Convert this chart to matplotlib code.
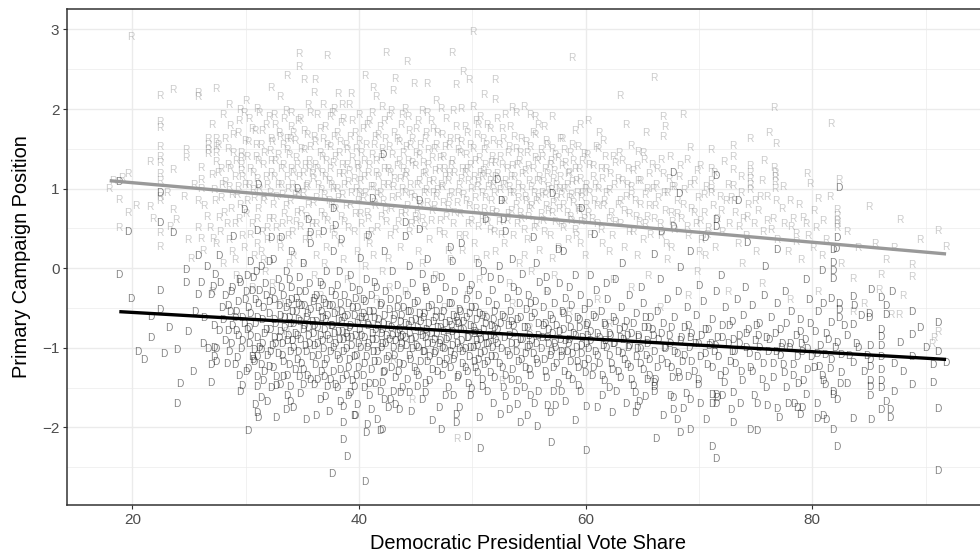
import matplotlib
matplotlib.use("Agg")
import matplotlib.pyplot as plt
from matplotlib.ticker import FixedLocator

# Republican candidates: (Democratic presidential vote share, primary campaign position)
rep_points = [
    (17.95,1.00),(18.3,1.10),(18.8,0.86),(18.8,0.51),(19.1,1.13),(19.6,1.19),(19.6,0.69),(19.9,2.91),(20.3,0.78),
    (21.5,0.77),(21.5,1.34),(21.8,0.62),(22.4,2.16),(22.4,1.84),(22.4,1.76),(22.4,1.52),(22.4,1.40),(22.4,1.32),
    (22.4,1.19),(22.4,1.09),(22.4,0.90),(22.4,0.84),(22.4,0.44),(22.4,0.27),(23.6,2.24),(23.6,1.23),(23.6,0.73),
    (23.8,0.61),(23.0,0.95),(23.3,0.52),
    (24.7,1.49),(24.7,1.38),(24.5,0.90),(24.9,0.35),(25.4,1.05),(25.8,2.20),(25.8,2.15),(25.8,0.85),(25.8,0.50),
    (26.0,1.00),(26.0,1.26),(26.0,1.11),(26.0,0.37),(26.3,0.78),(26.6,0.64),(26.7,1.62),(26.7,1.55),(26.7,1.49),
    (26.7,1.43),(26.8,0.50),(27.0,1.80),(27.0,1.17),(27.2,0.98),(27.4,2.25),(27.4,1.62),(27.4,1.52),(27.4,1.45),
    (27.4,1.33),(27.4,0.30),(27.5,1.20),(27.6,0.63),(27.8,0.88),(26.2,0.22),(25.2,0.12),(27.1,0.37),(27.9,1.05),
    (28.2,1.62),(28.4,1.30),(28.6,1.79),(28.5,1.02),(28.7,0.75),(28.3,0.55),(28.9,1.45),(28.8,0.20),(29.0,1.15),
    (29.2,0.92),(29.3,1.70),(29.5,1.99),(29.6,1.45),(29.6,1.38),(29.6,1.30),(29.6,1.22),(29.4,0.62),(29.7,0.40),
    (29.9,1.05),(30.0,2.10),(30.1,0.85),(30.2,1.58),(30.3,1.88),(30.4,1.25),(30.5,0.55),(30.6,0.98),(30.8,1.72),
    (30.9,1.40),(31.0,0.30),(31.0,1.12),(31.1,0.75),(31.2,1.95),(31.3,1.55),(31.4,0.45),(31.5,1.30),(31.6,0.90),
    (31.7,-0.05),(31.8,1.80),(31.9,1.05),(32.0,0.62),(32.2,2.27),(32.1,1.47),(32.2,1.20),(32.2,1.62),(28.0,0.05),
    (29.1,-0.10),(30.7,0.15),(31.9,0.35),
    (32.4,0.80),(32.5,1.92),(32.6,1.35),(32.7,0.50),(32.8,1.05),(32.9,1.70),(33.0,0.25),(33.1,1.25),(33.2,0.92),
    (33.3,1.55),(33.4,0.68),(33.5,1.98),(33.6,2.41),(33.6,1.15),(33.7,0.40),(33.8,1.42),(33.9,0.85),(34.0,1.78),
    (34.1,1.05),(34.2,0.15),(34.3,1.60),(34.4,0.58),(34.5,1.30),(34.6,0.95),(34.7,2.69),(34.7,2.53),(34.8,1.88),
    (34.9,0.72),(35.0,1.20),(35.1,2.37),(35.1,1.48),(35.2,0.35),(35.3,1.02),(35.4,1.68),(35.5,0.80),(35.6,1.35),
    (35.7,1.95),(35.8,0.55),(35.9,1.12),(36.0,-0.10),(36.1,2.37),(36.1,1.58),(36.2,0.88),(35.0,0.05),(32.3,-0.20),
    (33.6,1.62),(34.2,1.20),(35.6,1.25),
    (36.3,1.25),(36.4,0.42),(36.5,1.75),(36.6,0.98),(36.7,1.40),(36.8,2.05),(36.9,0.65),(37.0,1.15),(37.1,0.25),
    (37.2,2.67),(37.2,1.55),(37.3,0.85),(37.4,1.90),(37.5,1.05),(37.6,0.48),(37.7,1.32),(37.8,1.65),(37.9,0.75),
    (38.0,1.00),(38.1,2.19),(38.2,1.45),(38.3,0.30),(38.4,1.82),(38.5,0.92),(38.6,1.18),(38.7,0.58),(38.8,1.55),
    (38.9,-0.15),(39.0,1.08),(39.1,2.05),(39.3,2.19),(39.2,0.80),(39.4,1.38),(39.5,0.45),(39.6,1.70),(39.7,1.00),
    (39.8,0.20),(39.9,1.25),(40.0,1.92),(40.1,0.68),(37.4,1.25),(38.9,1.30),(36.9,0.05),(40.0,0.95),
    (40.2,1.45),(40.3,0.88),(40.5,2.41),(40.4,1.15),(40.6,0.38),(40.7,1.80),(40.8,0.62),(40.9,1.30),(41.0,1.02),
    (41.1,1.95),(41.2,2.26),(41.2,0.15),(41.3,1.55),(41.4,0.78),(41.5,1.20),(41.6,0.50),(41.7,1.68),(41.8,0.95),
    (41.9,1.38),(42.0,-0.05),(42.1,1.05),(42.2,1.85),(42.4,2.71),(42.3,0.72),(42.5,1.25),(42.6,1.52),(42.7,0.40),
    (42.8,1.98),(42.9,0.88),(43.0,2.23),(43.2,2.38),(43.1,1.12),(43.3,1.62),(43.4,0.58),(43.5,1.35),(43.6,0.25),
    (43.7,1.80),(43.8,1.00),(43.9,1.45),(44.0,0.70),(40.9,0.30),(42.6,-0.25),(44.0,1.15),
    (44.2,2.59),(44.1,1.20),(44.3,1.90),(44.4,0.45),(44.5,1.55),(44.6,0.92),(44.8,2.32),(44.7,1.32),(44.9,0.65),
    (45.0,1.75),(45.1,1.05),(45.2,0.20),(45.3,1.42),(45.4,0.80),(45.5,1.98),(45.6,1.18),(45.7,0.52),(45.8,1.62),
    (45.9,0.98),(46.0,2.32),(46.1,1.30),(46.2,0.35),(46.3,1.85),(46.4,0.72),(46.5,1.10),(46.6,1.50),(46.7,-0.10),
    (46.8,0.90),(46.9,1.70),(47.0,1.25),(47.1,0.60),(47.2,2.00),(47.3,1.02),(47.4,1.40),(47.5,0.42),(47.6,1.15),
    (47.7,1.88),(47.8,0.78),(47.9,1.55),(48.0,0.10),(45.0,0.60),(46.5,0.95),(47.9,1.20),
    (48.2,2.70),(48.3,1.98),(48.5,2.30),(48.1,1.30),(48.4,0.70),(48.6,1.62),(48.7,0.95),(48.8,0.40),(48.9,1.45),
    (49.0,1.12),(49.2,2.47),(49.1,0.22),(49.3,1.78),(49.4,0.85),(49.5,1.25),(49.7,2.37),(49.6,0.55),(49.8,1.55),
    (49.9,1.00),(50.0,2.97),(50.0,2.03),(50.1,0.30),(50.2,1.35),(50.3,0.75),(50.4,1.68),(50.5,1.08),(50.6,-0.15),
    (50.7,1.90),(50.8,0.62),(50.9,1.22),(51.0,1.48),(51.1,0.88),(51.2,0.15),(51.3,1.80),(51.4,1.02),(51.5,0.48),
    (51.6,1.32),(51.7,0.72),(51.8,1.60),(51.9,0.95),(52.0,2.37),(52.0,2.11),(52.0,1.15),(49.3,1.20),(50.8,1.15),
    (51.5,1.10),
    (52.2,1.88),(52.3,0.58),(52.4,1.40),(52.5,0.85),(52.6,1.75),(52.7,1.05),(52.8,0.30),(52.9,1.93),(53.0,1.25),
    (53.1,0.68),(53.2,1.52),(53.3,0.95),(53.5,2.01),(53.4,1.15),(53.6,0.40),(53.7,1.65),(53.8,0.80),(53.9,1.30),
    (54.0,1.05),(54.1,0.05),(54.2,1.45),(54.3,0.62),(54.5,2.03),(54.4,1.18),(54.6,0.90),(54.7,1.58),(54.8,0.35),
    (54.9,1.28),(55.1,1.93),(55.0,0.75),(55.2,1.02),(55.3,1.70),(55.4,0.50),(55.5,1.38),(55.6,0.85),(55.8,1.80),
    (55.7,1.10),(55.9,0.22),(56.0,1.48),(56.3,1.78),(53.2,-0.20),(55.2,-0.05),
    (56.1,0.95),(56.2,0.60),(56.4,1.25),(56.5,0.78),(56.6,1.55),(56.7,1.02),(56.8,0.40),(56.9,1.35),(57.0,0.70),
    (57.1,1.12),(57.3,1.42),(57.4,0.88),(57.5,0.25),(57.7,1.63),(57.6,1.00),(57.8,0.55),(57.9,1.28),(58.0,0.80),
    (58.1,1.48),(58.3,1.05),(58.4,0.35),(58.5,1.20),(58.6,0.65),(58.8,2.64),(58.8,1.55),(58.7,0.92),(58.9,1.35),
    (59.0,0.48),(59.1,1.10),(59.3,0.75),(59.5,1.80),(59.4,1.25),(59.6,0.58),(59.7,0.95),(59.8,1.44),(59.9,0.15),
    (60.0,1.05),(57.2,-0.10),(59.0,1.72),
    (60.2,0.70),(60.3,1.30),(60.4,0.42),(60.6,1.15),(60.7,0.85),(60.9,1.52),(61.0,0.55),(61.1,1.00),(61.3,1.25),
    (61.4,0.30),(61.5,0.78),(61.7,1.40),(61.8,0.95),(62.0,0.62),(62.1,1.18),(62.3,0.40),(62.5,1.05),(62.6,1.32),
    (62.9,1.45),(62.8,0.80),(63.0,2.17),(63.0,0.55),(63.2,1.10),(63.4,0.25),(63.5,0.90),(63.7,1.25),(63.8,0.68),
    (64.0,1.54),(64.0,1.02),(61.2,1.70),(62.4,-0.15),(64.2,0.45),
    (64.3,0.85),(64.5,1.28),(64.6,1.46),(64.7,0.58),(64.8,1.10),(65.0,0.35),(65.1,1.36),(65.3,1.70),(65.2,0.92),
    (65.4,0.65),(65.6,1.18),(65.7,0.42),(65.9,1.00),(66.0,2.39),(66.1,0.78),(66.3,1.25),(66.5,0.55),(66.6,1.36),
    (66.8,1.90),(66.8,1.65),(67.0,1.78),(66.9,0.95),(67.1,0.30),(67.3,1.12),(67.5,0.70),(67.6,1.02),(67.8,0.48),
    (68.0,0.85),(68.2,1.15),(65.5,-0.10),(67.2,0.10),
    (68.6,1.93),(68.9,1.36),(68.4,0.62),(68.7,0.98),(69.0,0.40),(69.2,1.51),(69.3,0.75),(69.5,1.10),(69.7,0.55),
    (69.9,0.88),(70.1,1.28),(70.2,0.35),(70.4,0.70),(70.6,1.02),(70.8,0.50),(71.0,1.49),(71.0,1.25),(71.0,1.10),
    (71.0,1.00),(71.0,0.95),(71.2,0.78),(71.4,0.25),(71.6,0.62),(71.8,0.90),(72.2,1.34),(72.0,0.45),(69.8,-0.05),
    (70.5,0.15),
    (72.4,0.85),(72.6,0.55),(72.8,0.88),(73.0,1.53),(73.0,1.40),(73.0,1.23),(73.0,1.03),(73.2,0.70),(73.5,0.52),
    (73.4,0.30),(73.7,0.95),(73.9,0.62),(74.1,0.40),(74.5,1.63),(74.5,1.29),(74.5,1.20),(74.5,1.12),(74.5,1.05),
    (74.5,0.98),(74.3,0.80),(74.8,0.55),(75.0,0.20),(75.2,0.72),(75.4,0.90),(75.7,1.35),(75.6,0.45),(76.0,0.90),
    (73.8,0.05),
    (76.2,1.70),(76.6,2.01),(76.6,1.26),(76.7,1.20),(76.7,1.15),(76.7,1.08),(76.7,1.00),(76.8,1.56),(76.3,0.48),
    (76.5,0.62),(76.9,0.35),(77.3,0.75),(77.5,0.55),(77.8,0.20),(78.0,0.85),(78.5,0.43),(78.5,0.33),(78.3,0.62),
    (79.2,0.63),(79.5,1.18),(79.8,1.06),(79.0,0.10),(79.6,0.40),(80.0,0.25),
    (80.3,0.50),(80.5,0.87),(80.8,0.15),(81.6,1.81),(81.2,0.35),(82.2,0.73),(82.2,0.66),(82.2,0.60),(82.2,0.55),
    (82.2,0.50),(82.3,1.11),(82.5,0.05),(83.0,0.45),(83.6,-0.13),(83.6,-0.55),(84.0,0.25),(85.0,0.77),(85.5,0.30),
    (86.0,-0.08),(85.9,-0.27),(86.5,0.10),(86.9,-0.59),(87.6,-0.59),(87.2,0.26),(87.7,0.61),(88.8,0.04),
    (88.8,-0.11),(89.5,0.35),(90.7,-0.88),(91.1,-0.80),(91.1,0.47),(91.8,0.27),
    (44.7,-1.65),(48.6,-2.14),(52.6,-1.42),(27.0,-0.30),(30.5,-0.25),(33.0,-0.45),(36.5,-0.35),(38.0,-0.55),
    (41.5,-0.40),(44.0,-0.30),(47.5,-0.50),(49.5,-0.35),(53.5,-0.45),(56.5,-0.30),(58.5,-0.55),(61.0,-0.40),
    (64.0,-0.25),(66.5,-0.50),(69.0,-0.35),(72.5,-0.30),(75.5,-0.20),(78.0,-0.40),(80.5,-0.30),(84.5,-0.45),
    (88.0,-0.35),(90.5,-0.95),(33.5,-0.80),(46.0,-0.85),(55.0,-0.75),(62.0,-0.70),(51.0,-0.60),(40.0,-0.65),
    (43.0,-1.15),(58.0,-1.05),
]

# Republican candidates in the crowded middle of the vote-share range
rep_points_core = [
    (27.3,0.85),(27.5,1.55),(27.7,0.45),(27.8,1.25),(28.0,1.92),(28.1,0.70),(28.2,1.08),(28.4,1.50),(28.5,0.35),
    (28.6,1.25),(28.8,0.92),(28.9,1.68),(29.0,0.55),(29.1,1.35),(29.3,1.02),(29.4,1.85),(29.5,0.80),(29.7,1.15),
    (29.8,0.25),(29.9,1.60),(30.0,0.68),(30.1,1.40),(30.3,1.05),(30.4,0.42),(30.5,1.75),(30.6,1.20),(30.7,0.88),
    (30.9,1.55),(31.0,0.62),(31.1,1.35),(31.2,1.00),(31.3,0.20),(31.4,1.72),(31.5,0.85),(31.6,1.45),(31.8,1.15),
    (31.9,0.50),(32.0,1.90),(32.1,0.95),(32.2,1.35),
    (32.3,1.58),(32.4,0.62),(32.5,1.15),(32.6,1.80),(32.7,0.90),(32.8,1.42),(32.9,0.35),(33.0,1.65),(33.1,1.05),
    (33.2,0.55),(33.3,1.30),(33.4,1.88),(33.5,0.78),(33.6,1.48),(33.7,1.00),(33.8,0.60),(33.9,1.62),(34.0,1.25),
    (34.1,0.45),(34.2,1.70),(34.3,0.92),(34.4,1.38),(34.5,0.70),(34.6,1.85),(34.7,1.15),(34.8,0.52),(34.9,1.50),
    (35.0,0.95),(35.1,1.72),(35.2,1.30),(35.3,0.65),(35.4,1.05),(35.5,2.05),(35.6,0.40),(35.7,1.52),(35.8,1.18),
    (35.9,0.82),(36.0,1.65),(36.1,1.30),(36.2,0.55),(36.3,1.92),(36.4,1.05),(36.5,1.45),(36.6,0.70),(36.7,1.20),
    (36.8,1.62),(36.9,0.92),
    (37.0,1.78),(37.1,1.35),(37.2,0.60),(37.3,1.10),(37.4,1.52),(37.5,0.80),(37.6,1.95),(37.7,1.00),(37.8,0.40),
    (37.9,1.40),(38.0,1.70),(38.1,0.88),(38.2,1.18),(38.3,1.58),(38.4,0.65),(38.5,1.30),(38.6,1.88),(38.7,1.05),
    (38.8,0.78),(38.9,1.48),(39.0,0.50),(39.1,1.22),(39.2,1.65),(39.3,0.95),(39.4,1.85),(39.5,1.12),(39.6,0.68),
    (39.7,1.50),(39.8,1.30),(39.9,0.85),(40.0,1.60),(40.1,1.10),(40.2,0.55),(40.3,1.75),(40.4,1.35),(40.5,0.95),
    (40.6,1.55),(40.7,0.70),(40.8,1.20),(40.9,1.85),(41.0,0.45),(41.1,1.42),(41.2,1.02),(41.3,0.82),(41.4,1.65),
    (41.5,1.35),(41.6,0.92),(41.7,1.15),(41.8,1.78),(41.9,0.65),
    (42.0,1.50),(42.1,0.85),(42.2,1.25),(42.3,1.62),(42.4,0.58),(42.5,1.05),(42.6,1.90),(42.7,1.20),(42.8,0.75),
    (42.9,1.42),(43.0,1.02),(43.1,1.70),(43.2,0.48),(43.3,1.28),(43.4,0.90),(43.5,1.58),(43.6,1.12),(43.7,0.68),
    (43.8,1.92),(43.9,1.25),(44.0,0.95),(44.1,1.52),(44.2,0.78),(44.3,1.35),(44.4,1.72),(44.5,1.05),(44.6,0.55),
    (44.7,1.62),(44.8,0.88),(44.9,1.28),(45.0,1.45),(45.1,0.72),(45.2,1.85),(45.3,1.10),(45.4,1.55),(45.5,0.62),
    (45.6,1.32),(45.7,0.95),(45.8,1.20),(45.9,1.70),(46.0,0.82),(46.1,1.48),(46.2,1.08),(46.3,0.60),(46.4,1.38),
    (46.5,1.75),(46.6,0.78),(46.7,1.22),(46.8,1.55),(46.9,0.98),
    (47.0,0.45),(47.1,1.38),(47.2,1.05),(47.3,1.68),(47.4,0.82),(47.5,1.25),(47.6,1.52),(47.7,0.65),(47.8,1.10),
    (47.9,0.88),(48.0,1.62),(48.1,0.95),(48.2,1.35),(48.3,0.55),(48.4,1.20),(48.5,1.78),(48.6,0.82),(48.7,1.48),
    (48.8,1.05),(48.9,0.68),(49.0,1.58),(49.1,1.25),(49.2,0.92),(49.3,0.40),(49.4,1.42),(49.5,1.70),(49.6,1.10),
    (49.7,0.78),(49.8,1.30),(49.9,0.60),(50.0,1.50),(50.1,1.15),(50.2,0.88),(50.3,1.85),(50.4,1.02),(50.5,0.52),
    (50.6,1.38),(50.7,1.20),(50.8,0.95),(50.9,1.62),(51.0,0.75),(51.1,1.30),(51.2,1.55),(51.3,0.58),(51.4,1.18),
    (51.5,1.75),(51.6,0.85),(51.7,1.40),(51.8,1.05),(51.9,0.45),
    (52.0,1.32),(52.1,0.70),(52.2,1.18),(52.3,1.55),(52.4,0.98),(52.5,0.42),(52.6,1.30),(52.7,1.62),(52.8,0.85),
    (52.9,1.10),(53.0,0.60),(53.1,1.45),(53.2,1.02),(53.3,1.78),(53.4,0.72),(53.5,1.28),(53.6,0.95),(53.7,1.15),
    (53.8,1.50),(53.9,0.55),(54.0,0.88),(54.1,1.35),(54.2,0.70),(54.3,1.62),(54.4,1.00),(54.5,0.48),(54.6,1.22),
    (54.7,0.85),(54.8,1.45),(54.9,0.65),(55.0,1.10),(55.1,1.52),(55.2,0.78),(55.3,1.25),(55.4,0.95),(55.5,1.68),
    (55.6,0.55),(55.7,1.35),(55.8,0.88),(55.9,1.15),(56.0,0.68),(56.1,1.40),(56.2,1.08),(56.3,0.45),(56.4,0.92),
    (56.5,1.60),(56.6,1.18),(56.7,0.72),(56.8,1.30),(56.9,0.98),
    (57.0,1.50),(57.1,0.82),(57.2,1.22),(57.3,0.58),(57.4,1.05),(57.5,1.38),(57.6,0.75),(57.7,1.15),(57.8,0.92),
    (57.9,1.62),(58.0,0.50),(58.1,1.00),(58.2,1.32),(58.3,0.70),(58.4,1.18),(58.5,0.88),(58.6,1.45),(58.7,0.60),
    (58.8,1.08),(58.9,0.82),(59.0,1.25),(59.1,0.40),(59.2,0.95),(59.3,1.52),(59.4,0.72),(59.5,1.12),(59.6,0.88),
    (59.7,1.35),(59.8,0.62),(59.9,1.00),(60.0,0.80),(60.1,1.42),(60.3,0.95),(60.5,0.62),(60.6,1.28),(60.8,1.05),
    (61.0,0.78),(61.1,1.50),(61.3,0.48),(61.4,1.12),(61.6,0.85),(61.8,1.25),(62.0,0.98),(62.2,0.70),(62.4,1.40),
    (62.6,0.58),(62.8,1.12),(63.0,0.85),
    (63.2,1.35),(63.4,0.72),(63.6,1.05),(63.8,0.45),(64.0,0.92),(64.2,1.22),(64.4,0.65),(64.6,1.10),(64.8,0.80),
    (65.0,1.45),(65.2,0.55),(65.4,1.00),(65.6,0.78),(65.8,1.30),(66.0,0.62),(66.2,1.05),(66.4,0.88),(66.6,0.40),
    (66.8,1.18),(67.0,0.72),(67.2,0.95),(67.4,1.40),(67.6,0.58),(67.8,1.02),(68.0,0.68),(68.3,1.28),(68.6,0.80),
    (68.9,0.52),(69.2,1.05),(69.5,0.70),(69.8,1.22),(70.1,0.60),(70.4,0.92),(70.7,0.42),
    (71.3,1.20),(71.9,0.72),(72.5,1.05),(73.1,0.85),(73.7,1.15),(74.2,0.65),(74.9,0.85),(75.5,1.10),(76.0,0.60),
    (76.8,0.85),(77.4,1.02),(78.1,0.52),(78.8,0.80),(79.4,0.55),(80.1,0.72),(80.9,0.60),(81.5,0.90),
]

# Republican candidates along the upper and lower fringe of the cloud
rep_points_edge = [
    (28.5,2.05),(31.0,2.00),(33.0,2.15),(36.0,2.20),(38.5,2.05),(41.5,2.15),(44.0,2.00),(46.8,2.10),(49.0,2.00),
    (51.0,2.18),(53.8,1.95),(57.0,1.90),(60.2,1.85),(63.5,1.80),(29.0,0.10),(31.5,0.10),(33.8,0.05),(36.2,0.15),
    (38.6,0.10),(40.5,0.02),(42.5,0.12),(45.5,0.05),(47.8,0.22),(50.3,0.10),(52.0,0.20),(54.5,0.15),(57.0,0.12),
    (59.5,0.30),(62.0,0.20),(64.5,0.15),(67.5,0.25),(70.0,0.20),(29.8,1.95),(34.0,1.95),(37.8,2.00),(42.0,2.02),
    (46.0,1.95),(50.5,1.80),(55.5,1.90),(61.5,1.60),
]

# Democratic candidates: (Democratic presidential vote share, primary campaign position)
dem_points = [
    (18.8,-0.09),(18.8,1.08),(19.6,0.45),(19.9,-0.39),(20.5,-1.05),(21.6,-0.61),(21.6,-0.87),(22.4,-0.29),
    (22.4,-0.52),(22.4,0.94),(22.4,0.57),(22.8,-1.08),(23.6,0.44),(23.9,-1.03),(23.9,-1.70),(23.2,-0.75),(21.0,-1.15),
    (24.7,-0.02),(24.7,-0.19),(25.8,0.15),(25.8,-0.34),(26.0,-0.19),(26.6,0.02),(26.9,-0.34),(27.1,-0.23),
    (27.3,-0.08),(27.7,-0.19),(27.6,0.16),(27.2,-0.72),(27.6,-0.79),(26.2,-0.95),(26.7,-1.02),(27.2,-1.00),
    (27.4,-1.02),(26.9,-1.21),(27.4,-1.18),(27.2,-1.11),(26.9,-1.44),(25.5,-0.55),(24.9,-0.80),(25.3,-1.30),
    (26.3,-0.62),(27.9,-0.50),(24.2,-1.45),
    (28.4,-0.79),(29.1,-0.79),(28.7,-0.95),(29.2,-1.13),(29.7,-0.92),(29.7,-1.48),(30.2,-2.05),(31.0,-1.36),
    (31.0,-1.49),(31.3,-1.63),(31.9,-1.68),(32.7,-1.88),(31.0,-1.82),(31.1,-1.88),(30.7,-1.03),(31.3,-1.03),
    (30.5,-1.11),(31.0,-1.11),(30.2,-1.26),(30.6,-1.15),(31.3,-1.21),(32.0,-1.24),(28.9,0.39),(29.8,0.73),
    (31.1,1.05),(31.0,0.47),(32.2,0.38),(30.4,0.08),(32.0,0.08),
    (28.2,-0.35),(28.6,-0.55),(28.8,-0.25),(29.0,-0.62),(29.3,-0.42),(29.5,-0.18),(29.8,-0.70),(30.0,-0.30),
    (30.2,-0.50),(30.4,-0.85),(30.6,-0.12),(30.8,-0.40),(31.0,-0.62),(31.2,-0.28),(31.4,-0.95),(31.5,-0.50),
    (31.7,-0.20),(31.8,-0.78),(32.0,-0.42),(32.1,-1.05),(28.3,-1.20),(29.4,-1.35),(30.9,-0.05),(31.6,-1.30),
    (32.7,-1.36),(33.0,-1.47),(33.3,-1.36),(33.6,-1.61),(33.9,-1.68),(32.7,-1.48),(33.9,-1.49),(34.7,-1.36),
    (35.0,-1.47),(33.1,0.38),(34.5,1.00),(35.5,0.61),(35.7,0.44),(35.7,0.31),(32.3,-0.30),(32.5,-0.65),
    (32.6,-0.95),(32.8,-0.15),(32.9,-0.48),(33.0,-0.80),(33.2,-1.10),(33.3,-0.35),(33.4,-0.62),(33.5,-0.05),
    (33.6,-0.92),(33.7,-0.45),(33.8,-1.22),(33.9,-0.70),(34.0,-0.25),(34.1,-0.55),(34.2,-1.00),(34.3,-0.82),
    (34.4,-0.38),(34.5,-1.15),(34.6,-0.65),(34.7,-0.12),(34.8,-0.90),(34.9,-0.48),(35.0,-1.28),(35.1,-0.72),
    (35.2,-0.30),(35.3,-1.05),(35.4,-0.58),(35.5,-0.85),(35.6,-0.20),(35.7,-1.40),(35.8,-0.68),(35.9,-0.42),
    (36.0,-0.98),(34.2,-1.75),(35.3,-1.90),(32.4,0.10),(34.0,0.20),
    (36.0,-1.47),(36.3,-1.40),(36.9,-1.36),(37.2,-1.49),(37.9,-1.47),(38.3,-1.68),(38.6,-1.74),(38.6,-1.95),
    (38.6,-2.16),(38.9,-2.37),(39.5,-1.86),(39.2,-1.57),(37.6,-2.58),(37.7,0.74),(37.9,0.53),(37.7,0.20),
    (36.2,-0.35),(36.3,-0.75),(36.4,-1.10),(36.5,-0.18),(36.6,-0.55),(36.7,-0.92),(36.8,-0.40),(36.9,-1.22),
    (37.0,-0.65),(37.1,-0.05),(37.2,-0.85),(37.3,-0.48),(37.4,-1.05),(37.5,-0.30),(37.6,-0.72),(37.7,-1.30),
    (37.8,-0.58),(37.9,-0.95),(38.0,-0.22),(38.1,-0.80),(38.2,-1.15),(38.3,-0.45),(38.4,-0.68),(38.5,-1.40),
    (38.6,-0.90),(38.7,-0.35),(38.8,-1.02),(38.9,-0.60),(39.0,-1.25),(39.1,-0.75),(39.2,-0.10),(39.3,-0.88),
    (39.4,-0.50),(39.5,-1.12),(39.6,-0.38),(39.7,-1.35),(39.8,-0.70),(39.9,-0.95),(40.0,-0.28),(36.5,-1.65),
    (37.3,-1.80),(39.0,-1.60),(38.4,0.35),(36.8,0.45),
    (40.5,-2.69),(40.6,-2.07),(41.8,-2.04),(41.1,0.87),(42.1,1.42),(40.7,-1.97),(42.0,-2.03),(39.6,-1.86),
    (40.2,-0.85),(40.3,-0.40),(40.4,-1.20),(40.5,-0.62),(40.6,-0.15),(40.7,-1.00),(40.8,-0.72),(40.9,-1.45),
    (41.0,-0.35),(41.1,-0.90),(41.2,-0.55),(41.3,-1.18),(41.4,-0.78),(41.5,-0.25),(41.6,-1.05),(41.7,-0.65),
    (41.8,-1.55),(41.9,-0.45),(42.0,-0.95),(42.1,-0.70),(42.2,-1.30),(42.3,-0.30),(42.4,-0.85),(42.5,-1.12),
    (42.6,-0.52),(42.7,-1.65),(42.8,-0.75),(42.9,-0.05),(43.0,-1.00),(43.1,-0.60),(43.2,-1.38),(43.3,-0.82),
    (43.4,-0.40),(43.5,-1.20),(43.6,-0.68),(43.7,-0.95),(43.8,-1.50),(43.9,-0.50),(44.0,-0.88),(41.0,-1.78),
    (42.2,0.20),(44.0,0.57),(40.8,0.40),(42.2,-1.65),(42.5,-1.76),(43.5,-1.78),(43.2,-1.72),(39.5,-1.49),
    (40.4,-1.51),(42.0,-1.44),(43.6,-1.57),
    (44.4,-1.57),(45.1,-1.49),(45.8,-1.57),(44.2,-0.35),(44.3,-0.72),(44.4,-1.10),(44.5,-0.55),(44.6,-0.90),
    (44.7,-0.20),(44.8,-1.25),(44.9,-0.65),(45.0,-0.98),(45.3,0.84),(45.3,0.48),(45.1,-0.42),(45.2,-1.35),
    (45.4,-0.80),(45.5,-0.08),(45.6,-1.05),(45.7,-0.58),(45.8,-0.88),(45.9,-0.30),(46.0,-1.18),(46.1,-0.70),
    (46.2,-1.42),(46.3,-0.48),(46.4,-0.95),(46.5,-0.15),(46.6,-1.08),(46.7,-0.62),(46.8,-0.82),(46.9,-1.30),
    (47.0,-0.40),(47.1,-0.75),(47.2,-2.03),(47.3,-1.00),(47.4,-0.55),(47.5,-1.22),(47.6,-0.25),(47.7,-0.90),
    (47.8,-1.50),(47.9,-0.68),(48.0,-1.05),(44.0,0.39),(46.0,0.10),(47.0,-1.75),(48.0,0.25),
    (48.3,-1.61),(48.5,-1.84),(48.5,-1.95),(49.5,-2.12),(49.8,-1.60),(50.7,-2.27),(50.8,-1.49),(48.1,-0.45),
    (48.2,-0.80),(48.3,-1.15),(48.4,-0.30),(48.5,-0.62),(48.6,-0.95),(48.7,-1.35),(48.8,-0.52),(48.9,-0.78),
    (49.0,-0.12),(49.1,-1.05),(49.2,-0.68),(49.3,-1.25),(49.4,-0.40),(49.5,-0.88),(49.6,-1.45),(49.7,-0.58),
    (49.8,-1.00),(49.9,-0.22),(50.0,-0.75),(50.1,-1.18),(50.2,-0.50),(50.3,-0.92),(50.4,-1.32),(50.5,-0.35),
    (50.6,-0.82),(50.7,-1.08),(50.8,-0.60),(50.9,-0.05),(51.0,-1.22),(51.1,0.61),(51.1,-0.70),(51.2,-0.95),
    (51.3,-1.55),(51.4,-0.42),(51.5,-0.85),(51.6,-1.12),(51.7,-0.28),(51.8,-0.65),(51.9,-1.38),(52.0,-0.90),
    (49.0,0.30),(50.5,0.05),
    (52.2,1.11),(52.5,0.84),(52.7,0.61),(52.9,0.45),(52.4,-1.84),(53.2,-1.78),(53.9,-1.72),(55.4,-1.70),
    (55.7,-2.00),(52.7,-1.50),(53.8,-1.55),(55.1,-1.60),(52.1,-0.48),(52.2,-0.78),(52.3,-1.20),(52.4,-0.15),
    (52.5,-1.02),(52.6,-0.60),(52.8,-0.88),(52.9,-1.35),(53.0,-0.38),(53.1,-0.72),(53.2,-1.10),(53.3,-0.55),
    (53.4,-0.95),(53.5,-1.28),(53.6,-0.25),(53.7,-0.82),(53.8,-1.05),(53.9,-0.65),(54.0,-1.42),(54.1,-0.45),
    (54.2,-0.90),(54.3,-1.15),(54.4,-0.08),(54.5,-0.75),(54.6,-1.25),(54.7,-0.52),(54.8,-1.00),(54.9,-0.35),
    (55.0,-0.85),(55.1,-1.35),(55.2,-0.62),(55.3,-1.08),(55.3,0.38),(55.5,-0.42),(55.6,-0.95),(55.7,-1.20),
    (55.8,-0.70),(55.9,-0.18),(53.5,0.10),(54.8,-1.85),
    (56.6,-1.73),(56.9,-2.19),(57.3,-1.73),(57.0,0.93),(57.5,0.23),(57.8,-1.55),(59.5,-1.55),(60.0,-1.74),
    (60.0,-2.30),(59.6,0.74),(56.1,-0.88),(56.2,-0.50),(56.3,-1.15),(56.4,-0.70),(56.5,-1.38),(56.6,-0.30),
    (56.7,-0.95),(56.8,-0.60),(56.9,-1.05),(57.0,-0.82),(57.1,-1.25),(57.2,-0.45),(57.3,-1.00),(57.4,-0.72),
    (57.5,-1.45),(57.6,-0.20),(57.7,-0.90),(57.8,-1.12),(57.9,-0.55),(58.0,-0.78),(58.1,-1.30),(58.2,-0.38),
    (58.3,-1.05),(58.4,-0.65),(58.5,-0.90),(58.6,-1.18),(58.7,-0.48),(58.8,-1.40),(58.9,-0.82),(59.0,-0.10),
    (59.1,-1.00),(59.2,-0.62),(59.3,-1.25),(59.4,-0.75),(59.5,-0.35),(59.6,-1.08),(59.7,-0.88),(59.8,-0.52),
    (59.9,-1.32),(60.0,-0.95),(58.0,0.20),
    (60.7,0.42),(61.4,-1.61),(62.3,-1.82),(62.7,-1.55),(64.3,-1.57),(64.7,-1.68),(64.3,-1.82),(64.5,-1.74),
    (60.1,-0.70),(60.2,-1.15),(60.3,-0.45),(60.4,-0.92),(60.5,-1.35),(60.6,-0.60),(60.8,-1.05),(60.9,-0.28),
    (61.0,-0.82),(61.2,-1.20),(61.3,-0.55),(61.5,-0.98),(61.6,-1.42),(61.7,-0.72),(61.9,-0.40),(62.0,-1.10),
    (62.1,-0.85),(62.3,-1.28),(62.4,-0.62),(62.5,-0.95),(62.6,-0.15),(62.8,-1.05),(62.9,-0.78),(63.0,-1.38),
    (63.1,-0.50),(63.3,-0.90),(63.4,-1.15),(63.5,-0.68),(63.7,-1.00),(63.8,-0.35),(63.9,-1.25),(64.0,-0.82),
    (64.2,-1.48),(64.4,-0.58),(64.5,-1.02),(64.6,-0.88),(64.8,-1.20),(65.0,-0.45),(65.1,-0.75),(65.3,-1.10),
    (65.4,-0.95),(65.6,-1.35),(65.7,-0.62),(65.9,-0.85),(66.0,-1.55),(66.0,-1.49),(66.0,-1.44),(65.4,-1.40),
    (66.1,-1.40),(66.2,-2.14),(66.6,0.45),(66.0,0.17),
    (67.7,1.20),(68.2,0.93),(67.7,0.52),(69.2,0.21),(70.5,0.38),(71.5,0.61),(71.5,0.52),(71.5,1.16),
    (71.1,-2.24),(71.5,-2.40),(68.3,-2.07),(69.2,-2.03),(68.0,-1.91),(67.7,-1.78),(68.6,-1.77),(70.1,-1.71),
    (71.1,-1.70),(71.5,-1.71),(69.2,-1.65),(67.4,-1.60),(67.7,-1.63),(67.6,-1.38),(68.2,-1.38),(69.0,-1.36),
    (69.9,-1.47),(71.1,-1.59),(71.5,-1.59),(71.6,-1.63),(66.3,-0.55),(66.4,-0.90),(66.6,-1.15),(66.8,-0.70),
    (67.0,-1.02),(67.2,-0.40),(67.3,-0.85),(67.5,-1.25),(67.8,-0.62),(68.0,-1.08),(68.1,-0.30),(68.3,-0.92),
    (68.5,-1.18),(68.7,-0.75),(68.9,-0.50),(69.1,-1.00),(69.3,-0.82),(69.5,-1.30),(69.7,-0.60),(69.9,-0.95),
    (70.1,-1.12),(70.3,-0.42),(70.5,-0.78),(70.7,-1.22),(70.9,-0.98),(71.1,-0.65),(71.3,-1.05),(71.5,-0.30),
    (71.6,-0.88),(71.8,-1.35),(72.0,-0.72),
    (73.4,0.84),(74.2,0.32),(76.9,0.23),(73.0,-1.95),(74.5,-2.03),(75.1,-2.05),(73.6,-1.71),(75.1,-1.71),
    (76.0,-1.73),(76.9,-1.77),(77.8,-1.71),(78.4,-1.70),(79.4,-1.59),(80.4,-1.71),(78.9,-1.84),(78.6,-1.76),
    (79.1,-1.76),(80.4,-1.89),(73.0,-1.57),(72.2,-1.44),(72.0,-1.61),(72.3,-0.50),(72.5,-0.95),(72.7,-1.18),
    (72.9,-0.68),(73.1,-1.05),(73.3,-0.40),(73.5,-0.85),(73.7,-1.30),(73.9,-0.60),(74.1,-1.00),(74.3,-0.78),
    (74.5,-1.25),(74.7,-0.48),(74.9,-0.92),(75.1,-1.12),(75.3,-0.70),(75.5,-1.40),(75.7,-0.35),(75.9,-0.88),
    (76.1,-1.05),(76.3,-0.62),(76.5,-1.20),(76.7,-0.82),(76.9,-0.45),(77.1,-1.10),(77.3,-0.95),(77.5,-1.32),
    (77.7,-0.70),(77.9,-1.00),(78.1,-0.55),(78.3,-1.22),(78.5,-0.85),(78.7,-1.45),(78.9,-0.65),(79.1,-1.05),
    (79.3,-0.90),(79.5,-1.28),(79.7,-0.40),(79.9,-1.12),
    (82.2,0.38),(81.8,0.23),(82.1,0.24),(82.3,1.01),(81.8,0.06),(81.8,-0.04),(81.8,-0.13),(80.8,-0.03),
    (85.2,-0.27),(86.0,-0.37),(83.6,-0.36),(83.7,-0.47),(81.6,-0.38),(82.3,-0.45),(82.3,-0.53),(82.3,-0.62),
    (86.5,-0.48),(86.5,-0.59),(85.0,-0.57),(85.0,-0.63),(88.8,-0.55),(91.1,-0.69),(83.6,-0.71),(81.6,-0.69),
    (86.0,-0.78),(86.0,-0.86),(86.0,-0.98),(86.0,-1.11),(86.0,-1.28),(86.0,-1.42),(86.0,-1.50),(87.7,-0.94),
    (88.8,-0.84),(88.8,-1.11),(88.8,-1.47),(85.1,-0.98),(85.1,-1.15),(85.1,-1.24),(85.1,-1.42),(85.1,-1.49),
    (85.1,-1.61),(90.6,-1.22),(91.8,-1.19),(91.1,-1.05),(83.6,-1.19),(90.6,-1.44),(91.1,-1.77),(91.1,-2.55),
    (82.2,-2.25),(81.8,-2.03),(83.6,-1.89),(85.2,-1.91),(86.0,-1.78),(86.8,-1.78),(86.8,-1.88),(87.2,-1.56),
    (86.5,-1.68),(80.9,-1.86),(81.8,-1.59),(82.2,-1.65),(81.8,-1.56),(80.9,-1.42),(81.1,-1.47),(80.6,-1.24),
    (81.5,-1.26),(82.5,-1.32),(80.7,-0.98),(82.2,-0.94),(82.5,-1.09),(81.1,-1.09),(81.2,-1.91),(80.2,-0.80),
    (80.5,-0.55),(83.0,-0.85),(84.0,-1.00),(84.3,-0.60),(87.2,-1.20),(89.5,-0.75),(88.0,-1.30),(87.0,-0.30),
    (90.0,-1.00),(83.0,-1.45),(84.5,-1.30),
]

# Democratic candidates in the crowded band around the fitted line
dem_points_core = [
    (28.0,-0.65),(28.2,-0.92),(28.4,-0.48),(28.5,-1.05),(28.7,-0.30),(28.8,-0.72),(29.0,-1.22),(29.1,-0.55),
    (29.3,-0.85),(29.4,-0.15),(29.6,-1.02),(29.7,-0.62),(29.9,-0.40),(30.0,-1.30),(30.1,-0.78),(30.3,-0.95),
    (30.4,-0.58),(30.5,-0.28),(30.7,-1.18),(30.8,-0.70),(31.0,-0.88),(31.1,-0.45),(31.2,-1.00),(31.4,-0.65),
    (31.5,-1.42),(31.6,-0.82),(31.8,-0.35),(31.9,-1.10),(32.0,-0.58),(32.1,-0.78),(32.3,-0.98),(32.4,-1.25),
    (32.5,-0.40),(32.6,-0.70),(32.8,-1.08),(32.9,-0.88),
    (33.0,-0.60),(33.1,-0.25),(33.2,-0.95),(33.3,-1.18),(33.4,-0.75),(33.5,-0.50),(33.6,-1.35),(33.7,-0.85),
    (33.8,-0.62),(33.9,-1.05),(34.0,-0.40),(34.1,-0.92),(34.2,-0.70),(34.3,-1.28),(34.4,-0.55),(34.5,-0.85),
    (34.6,-1.05),(34.7,-0.30),(34.8,-0.68),(34.9,-1.20),(35.0,-0.78),(35.1,-0.48),(35.2,-0.98),(35.3,-0.62),
    (35.4,-1.35),(35.5,-0.75),(35.6,-0.95),(35.7,-0.52),(35.8,-1.12),(35.9,-0.82),(36.0,-0.38),(36.1,-1.22),
    (36.2,-0.68),(36.3,-0.95),(36.4,-0.50),(36.5,-0.85),(36.6,-1.30),(36.7,-0.62),(36.8,-1.02),(36.9,-0.78),
    (37.0,-0.45),(37.1,-1.15),(37.2,-0.60),(37.3,-0.90),(37.4,-1.40),(37.5,-0.72),(37.6,-0.48),(37.7,-1.00),
    (37.8,-0.82),(37.9,-0.35),
    (38.0,-1.10),(38.1,-0.65),(38.2,-0.90),(38.3,-1.28),(38.4,-0.55),(38.5,-0.80),(38.6,-1.05),(38.7,-0.62),
    (38.8,-1.35),(38.9,-0.88),(39.0,-0.45),(39.1,-1.15),(39.2,-0.72),(39.3,-0.98),(39.4,-1.42),(39.5,-0.60),
    (39.6,-0.85),(39.7,-1.10),(39.8,-0.50),(39.9,-1.25),(40.0,-0.78),(40.1,-1.00),(40.2,-0.62),(40.3,-1.35),
    (40.4,-0.88),(40.5,-0.42),(40.6,-1.12),(40.7,-0.70),(40.8,-0.95),(40.9,-0.55),(41.0,-1.28),(41.1,-0.82),
    (41.2,-1.05),(41.3,-0.62),(41.4,-1.45),(41.5,-0.90),(41.6,-0.72),(41.7,-1.18),(41.8,-0.48),(41.9,-1.00),
    (42.0,-0.78),(42.1,-1.32),(42.2,-0.60),(42.3,-0.95),(42.4,-1.15),(42.5,-0.72),(42.6,-0.90),(42.7,-0.40),
    (42.8,-1.25),(42.9,-0.85),
    (43.0,-0.65),(43.1,-1.10),(43.2,-0.92),(43.3,-0.50),(43.4,-1.30),(43.5,-0.78),(43.6,-1.02),(43.7,-0.60),
    (43.8,-0.85),(43.9,-1.22),(44.0,-0.70),(44.1,-0.98),(44.2,-1.40),(44.3,-0.55),(44.4,-0.82),(44.5,-1.15),
    (44.6,-0.68),(44.7,-1.02),(44.8,-0.45),(44.9,-0.88),(45.0,-1.30),(45.1,-0.75),(45.2,-1.00),(45.3,-0.58),
    (45.4,-1.18),(45.5,-0.85),(45.6,-0.62),(45.7,-1.05),(45.8,-1.45),(45.9,-0.78),(46.0,-0.95),(46.1,-0.50),
    (46.2,-1.12),(46.3,-0.82),(46.4,-1.28),(46.5,-0.68),(46.6,-0.90),(46.7,-1.05),(46.8,-0.55),(46.9,-0.75),
    (47.0,-1.18),(47.1,-0.92),(47.2,-0.62),(47.3,-1.35),(47.4,-0.80),(47.5,-1.02),(47.6,-0.70),(47.7,-1.15),
    (47.8,-0.88),(47.9,-0.45),
    (48.0,-1.25),(48.1,-0.72),(48.2,-0.98),(48.3,-0.60),(48.4,-1.10),(48.5,-0.85),(48.6,-1.38),(48.7,-0.70),
    (48.8,-1.02),(48.9,-0.55),(49.0,-0.92),(49.1,-1.20),(49.2,-0.78),(49.3,-1.02),(49.4,-0.62),(49.5,-1.30),
    (49.6,-0.88),(49.7,-1.12),(49.8,-0.72),(49.9,-0.50),(50.0,-1.00),(50.1,-0.82),(50.2,-1.25),(50.3,-0.65),
    (50.4,-0.98),(50.5,-1.15),(50.6,-0.58),(50.7,-0.90),(50.8,-1.40),(50.9,-0.78),(51.0,-1.05),(51.1,-0.88),
    (51.2,-0.62),(51.3,-1.18),(51.4,-0.95),(51.5,-1.32),(51.6,-0.72),(51.7,-1.00),(51.8,-0.85),(51.9,-0.55),
    (52.0,-1.12),(52.2,-0.95),(52.4,-0.70),(52.6,-1.25),(52.8,-0.62),(53.0,-1.05),(53.2,-0.85),(53.4,-1.40),
    (53.6,-0.72),(53.8,-0.95),
    (54.0,-1.18),(54.2,-0.62),(54.4,-0.90),(54.6,-1.08),(54.8,-0.75),(55.0,-1.28),(55.2,-0.92),(55.4,-0.58),
    (55.6,-1.15),(55.8,-0.85),(56.0,-1.02),(56.2,-0.72),(56.4,-1.30),(56.6,-0.88),(56.8,-1.10),(57.0,-0.65),
    (57.2,-0.95),(57.4,-1.20),(57.6,-0.80),(57.8,-1.05),(58.0,-0.58),(58.2,-0.92),(58.4,-1.35),(58.6,-0.75),
    (58.8,-1.08),(59.0,-0.85),(59.2,-1.18),(59.4,-0.65),(59.6,-0.98),(59.8,-1.22),(60.0,-0.72),(55.1,-0.45),
    (57.1,-1.55),(59.3,-1.48),(54.5,-1.50),
    (60.2,-1.02),(60.4,-0.80),(60.6,-1.25),(60.8,-0.62),(61.0,-1.10),(61.2,-0.88),(61.4,-1.35),(61.6,-0.70),
    (61.8,-1.00),(62.0,-0.82),(62.2,-1.20),(62.4,-0.95),(62.6,-0.68),(62.8,-1.30),(63.0,-0.88),(63.2,-1.08),
    (63.4,-0.75),(63.6,-1.22),(63.8,-0.98),(64.0,-1.40),(64.2,-0.70),(64.4,-1.12),(64.6,-0.85),(64.8,-1.02),
    (65.0,-1.28),(65.2,-0.62),(65.4,-0.92),(65.6,-1.15),(65.8,-0.78),(66.0,-1.05),(66.3,-1.25),(66.6,-0.82),
    (66.9,-1.00),(67.2,-1.20),(67.5,-0.75),(67.8,-1.05),(68.1,-1.32),(68.4,-0.88),(68.7,-1.10),(69.0,-0.72),
    (69.3,-1.18),(69.6,-0.95),(69.9,-1.40),(70.2,-0.85),(70.5,-1.08),
    (70.8,-0.78),(71.1,-1.25),(71.4,-0.98),(71.7,-1.12),(72.0,-0.88),(72.3,-1.30),(72.6,-0.72),(72.9,-1.05),
    (73.2,-1.20),(73.5,-0.95),(73.8,-1.42),(74.1,-0.82),(74.4,-1.08),(74.7,-1.30),(75.0,-0.72),(75.3,-1.00),
    (75.6,-1.20),(75.9,-1.50),(76.2,-0.90),(76.5,-1.38),(76.8,-1.05),(77.1,-0.78),(77.4,-1.22),(77.7,-1.50),
    (78.0,-0.95),(78.3,-1.35),(78.6,-1.12),(78.9,-0.80),(79.2,-1.42),(79.5,-1.02),(79.8,-0.70),(80.1,-1.25),
    (80.4,-1.08),(80.8,-1.35),(81.2,-0.82),(81.6,-1.15),(82.0,-1.00),(82.4,-1.45),(82.8,-0.72),(83.2,-1.10),
    (83.8,-0.95),
]

# Democratic candidates along the upper and lower fringe of the cloud
dem_points_edge = [
    (29.5,-1.55),(30.8,-1.72),(32.2,-1.50),(33.5,-1.78),(34.8,-1.58),(36.2,-1.85),(37.0,-1.62),(38.0,-1.50),
    (39.8,-1.72),(40.9,-1.60),(41.6,-1.90),(43.0,-1.55),(44.6,-1.80),(45.5,-1.65),(46.4,-1.92),(47.6,-1.60),
    (48.8,-1.75),(49.9,-1.52),(50.6,-1.88),(51.8,-1.70),(52.9,-1.62),(54.2,-1.95),(55.8,-1.55),(56.8,-1.82),
    (58.2,-1.68),(59.0,-1.92),(61.0,-1.75),(62.0,-1.50),(63.5,-1.70),(65.2,-1.62),(66.8,-1.85),(68.8,-1.58),
    (70.6,-1.90),(72.8,-1.78),(74.8,-1.60),(77.0,-1.88),(30.1,-0.10),(31.3,0.02),(33.8,-0.15),(35.0,0.05),
    (36.7,-0.22),(38.2,-0.05),(39.4,-0.25),(40.1,0.12),(41.3,-0.18),(43.3,-0.22),(44.4,0.02),(45.8,-0.25),
    (47.2,-0.12),(48.2,0.08),(49.7,-0.28),(51.5,-0.12),(52.3,0.02),(54.0,-0.30),(55.6,0.05),(56.5,-0.12),
    (58.5,-0.25),(60.4,-0.10),(61.8,-0.20),(63.2,0.05),(64.9,-0.25),(66.5,-0.15),(68.3,0.00),(70.0,-0.22),
    (71.9,-0.10),(74.0,-0.25),(75.8,0.02),(77.6,-0.30),(79.4,-0.15),(80.9,-0.45),
    (30.3,-0.75),(32.5,-0.88),(34.6,-0.45),(36.0,-0.72),(38.8,-0.82),(40.3,-0.58),(41.9,-0.82),(43.6,-0.88),
    (45.4,-0.68),(47.0,-0.95),(48.6,-0.68),(50.2,-0.80),(51.9,-0.75),(53.4,-0.68),(55.0,-0.98),(56.7,-0.78),
    (58.4,-0.95),(60.1,-0.85),(61.7,-0.92),(63.6,-0.85),(65.5,-0.75),(67.4,-0.95),(69.2,-0.88),(71.0,-0.95),
    (73.0,-0.90),(75.2,-0.85),(77.2,-1.00),(79.0,-0.95),(81.4,-0.90),(84.8,-1.10),
]

# Fitted least-squares lines for each party (end points over each party's vote-share range)
rep_fit_x = [18.0, 91.8]
rep_fit_y = [1.10, 0.18]
dem_fit_x = [18.85, 91.8]
dem_fit_y = [-0.545, -1.145]

x_ticks = [20, 40, 60, 80]
y_ticks = [-2, -1, 0, 1, 2, 3]

FONT = "Liberation Sans"
W, H = 980, 560

fig = plt.figure(figsize=(W / 100, H / 100), dpi=100)
left, right, top, bottom = 67.3, 988.0, 9.0, 505.0
ax = fig.add_axes([left / W, (H - bottom) / H, (right - left) / W, (bottom - top) / H])
ax.set_xlim(14.26, 95.5)
ax.set_ylim(-2.974, 3.257)

ax.set_facecolor("white")
ax.xaxis.set_major_locator(FixedLocator(x_ticks))
ax.xaxis.set_minor_locator(FixedLocator([30, 50, 70, 90]))
ax.yaxis.set_major_locator(FixedLocator(y_ticks))
ax.yaxis.set_minor_locator(FixedLocator([-2.5, -1.5, -0.5, 0.5, 1.5, 2.5]))
ax.grid(which="major", color="#EBEBEB", linewidth=1.0, zorder=0)
ax.grid(which="minor", color="#EBEBEB", linewidth=0.5, zorder=0)
ax.set_axisbelow(True)
for s in ax.spines.values():
    s.set_color("#333333")
    s.set_linewidth(1.1)
ax.tick_params(which="major", length=3.2, width=0.8, color="#333333",
               labelcolor="#4D4D4D", labelsize=11, pad=2.5)
ax.tick_params(which="minor", length=0)
ax.set_xticklabels([str(v) for v in x_ticks], fontfamily=FONT)
ax.set_yticklabels([str(v).replace("-", "\u2212") for v in y_ticks], fontfamily=FONT)

for x, y in rep_points + rep_points_core + rep_points_edge:
    ax.text(x, y, "R", ha="center", va="center", fontsize=7.3, family=FONT,
            color="#7F7F7F", alpha=0.4, zorder=2)
for x, y in dem_points + dem_points_core + dem_points_edge:
    ax.text(x, y, "D", ha="center", va="center", fontsize=7.3, family=FONT,
            color="#000000", alpha=0.47, zorder=3)

ax.plot(rep_fit_x, rep_fit_y, color="#999999", linewidth=2.4, solid_capstyle="butt", zorder=4)
ax.plot(dem_fit_x, dem_fit_y, color="#000000", linewidth=2.4, solid_capstyle="butt", zorder=4)

ax.set_xlabel("Democratic Presidential Vote Share", fontsize=14.4, family=FONT,
              color="black", labelpad=5)
ax.set_ylabel("Primary Campaign Position", fontsize=14.4, family=FONT,
              color="black", labelpad=8)

fig.savefig("out.png", dpi=100, facecolor="white")
